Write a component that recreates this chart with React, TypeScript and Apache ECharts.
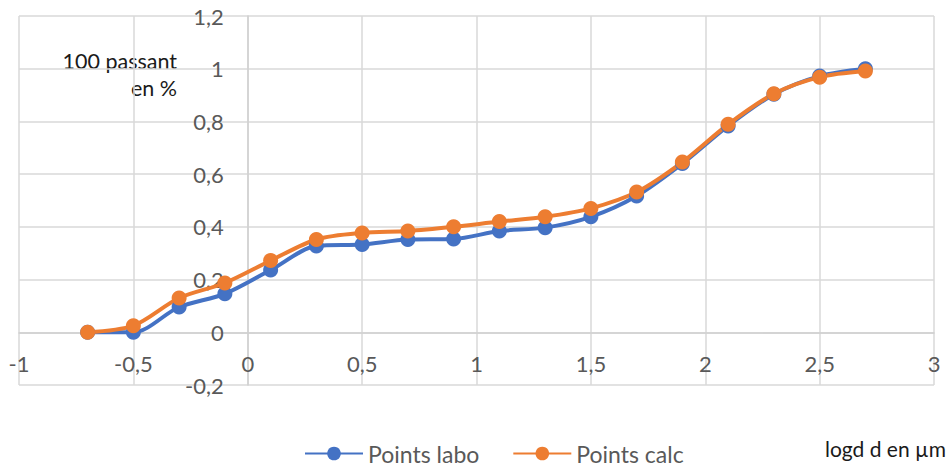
import React, { useEffect, useRef } from "react";
import * as echarts from "echarts";

const xValues = [-0.7, -0.5, -0.3, -0.1, 0.1, 0.3, 0.5, 0.7, 0.9, 1.1, 1.3, 1.5, 1.7, 1.9, 2.1, 2.3, 2.5, 2.7];
const pointsLabo = [0, 0, 0.096, 0.146, 0.236, 0.327, 0.333, 0.352, 0.354, 0.384, 0.397, 0.438, 0.517, 0.64, 0.783, 0.903, 0.972, 1.0];
const pointsCalc = [0, 0.025, 0.13, 0.187, 0.272, 0.352, 0.377, 0.384, 0.4, 0.42, 0.438, 0.47, 0.532, 0.646, 0.789, 0.905, 0.968, 0.991];
const seriesNames = ["Points labo", "Points calc"];
const yTitleLines = ["100 passant", "en %"];
const xTitle = "logd d en µm";

const FONT = "Lato, 'Open Sans', sans-serif";

const CHART_W = 950;
const CHART_H = 466;
const GRID_LEFT = 19;
const GRID_RIGHT = 16;
const GRID_TOP = 16;
const GRID_BOTTOM = 81;
const X_MIN = -1;
const X_MAX = 3;
const Y_MIN = -0.2;
const Y_MAX = 1.2;

function fmt(v: number): string {
  const r = Math.round(v * 10) / 10;
  return String(r).replace(".", ",");
}

export default function App() {
  const ref = useRef<HTMLDivElement>(null);
  useEffect(() => {
    if (!ref.current) return;
    const chart = echarts.init(ref.current, null, { renderer: "svg" });
    const labo = xValues.map((x, i) => [x, pointsLabo[i]]);
    const calc = xValues.map((x, i) => [x, pointsCalc[i]]);
    const plotH = CHART_H - GRID_TOP - GRID_BOTTOM;
    const plotW = CHART_W - GRID_LEFT - GRID_RIGHT;
    const xAxisOffset = -(plotH * (0 - Y_MIN)) / (Y_MAX - Y_MIN);
    const yAxisOffset = -(plotW * (0 - X_MIN)) / (X_MAX - X_MIN);
    chart.setOption({
      animation: false,
      backgroundColor: "#ffffff",
      grid: {
        left: GRID_LEFT,
        right: GRID_RIGHT,
        top: GRID_TOP,
        bottom: GRID_BOTTOM,
        containLabel: false,
        outerBoundsMode: "none",
      },
      xAxis: {
        type: "value",
        min: X_MIN,
        max: X_MAX,
        interval: 0.5,
        position: "bottom",
        offset: xAxisOffset,
        axisLine: { show: true, onZero: false, lineStyle: { color: "#d0d0d0", width: 1.5 } },
        axisTick: { show: false },
        splitLine: { show: true, lineStyle: { color: "#d9d9d9", width: 1.5 } },
        axisLabel: {
          color: "#595959",
          fontFamily: FONT,
          fontSize: 22,
          margin: 20,
          formatter: (v: number) => fmt(v),
        },
      },
      yAxis: {
        type: "value",
        min: Y_MIN,
        max: Y_MAX,
        interval: 0.2,
        position: "left",
        offset: yAxisOffset,
        axisLine: { show: true, onZero: false, lineStyle: { color: "#d0d0d0", width: 1.5 } },
        axisTick: { show: false },
        splitLine: { show: true, lineStyle: { color: "#d9d9d9", width: 1.5 } },
        axisLabel: {
          color: "#595959",
          fontFamily: FONT,
          fontSize: 22,
          margin: 24,
          formatter: (v: number) => fmt(v),
        },
      },
      legend: {
        left: 299,
        top: 437,
        itemWidth: 58,
        itemHeight: 17,
        itemGap: 33,
        textStyle: { color: "#595959", fontFamily: FONT, fontSize: 23 },
        data: seriesNames,
      },
      series: [
        {
          name: seriesNames[0],
          type: "line",
          data: labo,
          smooth: 0.3,
          symbol: "circle",
          symbolSize: 15,
          lineStyle: { color: "#4472C4", width: 4 },
          itemStyle: { color: "#4472C4" },
        },
        {
          name: seriesNames[1],
          type: "line",
          data: calc,
          smooth: 0.3,
          symbol: "circle",
          symbolSize: 15,
          lineStyle: { color: "#ED7D31", width: 4 },
          itemStyle: { color: "#ED7D31" },
        },
      ],
      graphic: [
        {
          type: "text",
          x: 177,
          y: 61,
          style: {
            text: yTitleLines[0],
            fill: "#1a1a1a",
            font: `21.5px ${FONT}`,
            textAlign: "right",
            textVerticalAlign: "middle",
          },
        },
        {
          type: "text",
          x: 177,
          y: 88,
          style: {
            text: yTitleLines[1],
            fill: "#1a1a1a",
            font: `21.5px ${FONT}`,
            textAlign: "right",
            textVerticalAlign: "middle",
          },
        },
        {
          type: "text",
          x: 825,
          y: 448,
          style: {
            text: xTitle,
            fill: "#1a1a1a",
            font: `21px ${FONT}`,
            textAlign: "left",
            textVerticalAlign: "middle",
          },
        },
      ],
    });
    return () => chart.dispose();
  }, []);
  return (
    <div
      ref={ref}
      style={{ position: "fixed", left: 0, top: 0, width: CHART_W, height: CHART_H }}
    />
  );
}
